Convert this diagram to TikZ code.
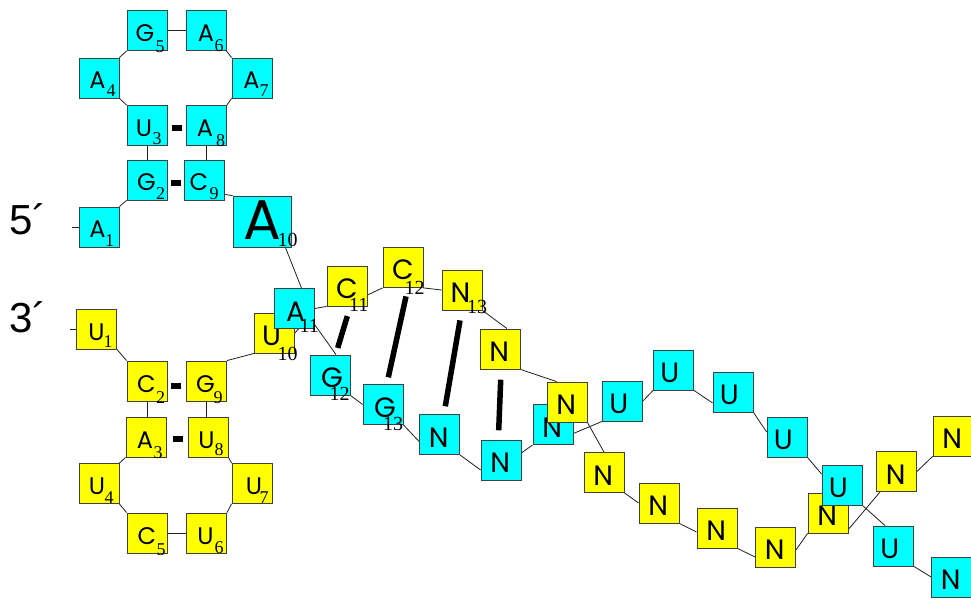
\documentclass[tikz,border=0pt]{standalone}
\usepackage{fontspec}
\setmainfont{Liberation Sans}
\newfontfamily\numfamily{Liberation Serif}
\newfontfamily\letterfamily{Poppins}
\usetikzlibrary{calc,backgrounds}

\definecolor{basecyan}{HTML}{00FFFF}
\definecolor{baseyellow}{HTML}{FFFF00}
\definecolor{edgegray}{HTML}{404040}
\definecolor{linkgray}{HTML}{202020}

\tikzset{
  base/.style={draw=edgegray, line width=0.8pt, minimum size=40pt, inner sep=0pt,
    text height=25pt, text depth=0pt, font=\letterfamily\fontsize{28}{28}\selectfont},
  cy/.style={base, fill=basecyan},
  ye/.style={base, fill=baseyellow},
  stem/.style={text height=22pt, font=\letterfamily\fontsize{24}{24}\selectfont},
  bigbox/.style={minimum width=58pt, minimum height=51pt, text height=37pt,
    font=\letterfamily\fontsize{56}{56}\selectfont},
  subnum/.style={anchor=base west, inner sep=0pt, font=\numfamily\fontsize{18}{18}\selectfont},
  subbig/.style={subnum, font=\numfamily\fontsize{20}{20}\selectfont},
  endlabel/.style={anchor=base west, inner sep=0pt, font=\fontsize{42}{42}\selectfont},
  link/.style={draw=linkgray, line width=0.8pt},
  stempair/.style={draw=black, line width=6pt},
  helixpair/.style={draw=black, line width=5.5pt},
}

% letter set at a horizontal offset from the box centre
\newcommand\lett[2]{\rlap{\kern#1pt\makebox[0pt]{#2}}}
\newcommand\Ub{\lett{-3.8}{U}}
\newcommand\Nb{\lett{-0.7}{N}}

% base box with its position number set low at the right
% [number style]{box style}{name}{position}{letter}{letter offset}{number}{number offset}
\newcommand\nuc[8][subnum]{%
  \node[#2] (#3) at (#4) {\lett{#6}{#5}};
  \node[#1] (#3s) at ($(#3.center)+(#8)$) {#7};%
}

\begin{document}
\begin{tikzpicture}[x=1pt,y=-1pt]
\useasboundingbox (0,0) rectangle (971,601);

% strand ends
\node[endlabel] (p5) at (9.3,235) {5´};
\node[endlabel] (p3) at (9.3,332) {3´};
\coordinate (t5) at (72,227);
\coordinate (t3) at (70,329);

% upper stem-loop
\nuc{cy,stem}{a1}{99,227}{A}{-1.5}{1}{6,20}
\nuc{cy,stem}{g2}{147,180}{G}{-0.5}{2}{9,20}
\nuc{cy,stem}{u3}{147,125.5}{U}{-3}{3}{5.5,19}
\nuc{cy,stem}{a4}{99,78}{A}{-1.5}{4}{7.5,19}
\nuc{cy,stem}{g5}{147,30.5}{G}{-2}{5}{8.5,22}
\nuc{cy,stem}{a6}{206,30.5}{A}{0}{6}{8.5,21}
\nuc{cy,stem}{a7}{252,78}{A}{-0.5}{7}{7.5,19}
\nuc{cy,stem}{a8}{206.5,125.5}{A}{-1.5}{8}{9.5,21}
\nuc{cy,stem}{c9}{204,180}{C}{-5}{9}{5.5,20}
\nuc[subbig]{cy, bigbox}{a10}{262,221.5}{A}{0}{10}{15.5,25}

% lower stem-loop
\nuc{ye,stem}{u1}{96.5,329}{U}{0}{1}{7,19}
\nuc{ye,stem}{c2}{147,381}{C}{-0.5}{2}{9,22}
\nuc{ye,stem}{a3}{146,437}{A}{-1}{3}{7.5,21}
\nuc{ye,stem}{u4}{99,483.5}{U}{-2}{4}{5.5,19.5}
\nuc{ye,stem}{c5}{147,533}{C}{0}{5}{9.5,22}
\nuc{ye,stem}{u6}{206.5,533}{U}{-1}{6}{8,20}
\nuc{ye,stem}{u7}{252,483.5}{U}{2}{7}{7.5,19.5}
\nuc{ye,stem}{u8}{208,437}{U}{-1.5}{8}{6.5,18}
\nuc{ye,stem}{g9}{206.5,381}{G}{-1}{9}{7,22}
\nuc[subbig]{ye}{u10}{274.5,333}{U}{-3}{10}{3,27}

% duplex
\nuc[subbig]{cy, text height=26.5pt}{a11}{294.5,308.5}{A}{1}{11}{5,24.5}
\nuc[subbig]{ye}{c11}{347,286}{C}{0}{11}{2,26}
\nuc[subbig]{ye}{c12}{403,267.5}{C}{0}{12}{1.5,27.5}
\nuc[subbig]{ye}{n13}{462,290}{N}{-1.5}{13}{5,23}
\nuc[subbig]{cy}{g12}{330,375}{G}{2}{12}{-0.5,25}
\nuc[subbig]{cy}{g13}{383,404.5}{G}{2}{13}{0,25.5}
\node[ye] (n14) at (500,349) {\Nb};
\node[cy] (nc1) at (439.5,434.5) {\Nb};
\node[cy] (nc2) at (501,460) {\Nb};
\node[cy] (nc3) at (553,424.5) {\Nb};
\node[ye] (n15) at (567,402) {\Nb};

% single strands
\node[cy] (uc1) at (622.5,401) {\Ub};
\node[cy] (uc2) at (673.5,370) {\Ub};
\node[cy] (uc3) at (733,392) {\Ub};
\node[cy] (uc4) at (787,437) {\Ub};
\node[ye] (n16) at (604,472.5) {\Nb};
\node[ye] (n17) at (659,503) {\Nb};
\node[ye] (n18) at (717,528) {\Nb};
\node[ye] (n19) at (775.5,547) {\Nb};
\node[ye] (n20) at (828,513) {\Nb};
\node[cy] (uc5) at (842,485) {\Ub};
\node[cy] (uc6) at (893.5,546) {\Ub};
\node[cy] (nc4) at (951.5,577) {\Nb};
\node[ye] (n21) at (896.5,471.5) {\Nb};
\node[ye] (n22) at (953,436) {\Nb};

% base pairs
\draw[stempair] ($(u3.east)!.5!(a8.west)+(-5,2.5)$) -- ++(10,0);
\draw[stempair] ($(g2.east)!.5!(c9.west)+(-4.5,3)$) -- ++(10,0);
\draw[stempair] ($(c2.east)!.5!(g9.west)+(-5.5,5)$) -- ++(10,0);
\draw[stempair] ($(a3.east)!.5!(u8.west)+(-4.5,1.7)$) -- ++(10,0);
\draw[helixpair] ($(c11.south)+(0.3,9.7)$) -- ($(g12.north)+(7.7,-6.7)$);
\draw[helixpair] ($(c12.south)+(3,8.5)$) -- ($(g13.north)+(5.3,-6.8)$);
\draw[helixpair] ($(n13.south)+(-2,10)$) -- ($(nc1.north)+(5.8,-7.8)$);
\draw[helixpair] ($(n14.south)+(0.7,10.3)$) -- ($(nc2.north)+(-2.3,-9.3)$);

% backbone
\begin{pgfonlayer}{background}
\fill[white] (0,0) rectangle (971,601);
\draw[link] (t5) -- (a1.west);
\draw[link] (a1.north east) -- (g2.south west);
\draw[link] (g2.north) -- (g2.north |- u3.south);
\draw[link] (u3.north west) -- (a4.south east);
\draw[link] (a4.north east) -- (g5.south west);
\draw[link] (g5.east) -- (a6.west);
\draw[link] (a6.south east) -- (a7.north west);
\draw[link] (a7.south west) -- (a8.north east);
\draw[link] (a8.south) -- (a8.south |- c9.north);
\draw[link] ($(c9.south east)+(0,-6)$) -- (a10.north west);
\draw[link] ($(a10.south east)+(-6,0)$) -- ($(a11.north)+(7,0)$);

\draw[link] (t3) -- (u1.west);
\draw[link] (u1.south east) -- (c2.north west);
\draw[link] (c2.south) -- (c2.south |- a3.north);
\draw[link] (a3.south west) -- (u4.north east);
\draw[link] (u4.south east) -- (c5.north west);
\draw[link] (c5.east) -- (u6.west);
\draw[link] (u6.north east) -- (u7.south west);
\draw[link] (u7.north west) -- (u8.south east);
\draw[link] (g9.south) -- (g9.south |- u8.north);
\draw[link] (g9.north east) -- (u10.south west);
\draw[link] (u10.east) -- ($(a11.south)+(4,0)$);

\draw[link] (a11.east) -- (c11.south west);
\draw[link] ($(c11.east)+(0,9)$) -- (c12.south west);
\draw[link] (c12.south east) -- (n13.west);
\draw[link] (n13.south east) -- ($(n14.north)+(7,0)$);
\draw[link] (n14.south east) -- ($(n15.north west)+(10,0)$);
\draw[link] (n15.south east) -- (n16.north);
\draw[link] (n16.south east) -- (n17.west);
\draw[link] (n17.south east) -- ($(n18.west)+(0,4)$);
\draw[link] (n18.south east) -- ($(n19.west)+(0,10)$);
\draw[link] ($(n19.east)+(0,3)$) -- (n20.south west);
\draw[link] ($(n20.south east)+(0,-4)$) -- ($(n21.south west)+(4,0)$);
\draw[link] (n21.east) -- (n22.south west);

\draw[link] ($(a11.south east)+(0,-4)$) -- ($(g12.north)+(6,0)$);
\draw[link] (g12.south east) -- (g13.west);
\draw[link] (g13.south east) -- ($(nc1.west)+(0,7)$);
\draw[link] (nc1.south east) -- ($(nc2.west)+(0,10)$);
\draw[link] ($(nc2.east)+(0,-7)$) -- (nc3.south west);
\draw[link] ($(nc3.east)+(0,9)$) -- (uc1.south west);
\draw[link] (uc1.east) -- (uc2.south west);
\draw[link] (uc2.south east) -- ($(uc3.west)+(0,11)$);
\draw[link] (uc3.south east) -- ($(uc4.west)+(0,-5)$);
\draw[link] (uc4.south east) -- ($(uc5.west)+(0,-11)$);
\draw[link] (uc5.south east) -- ($(uc6.north west)+(12,0)$);
\draw[link] (uc6.south east) -- (nc4.west);
\end{pgfonlayer}
\end{tikzpicture}
\end{document}
